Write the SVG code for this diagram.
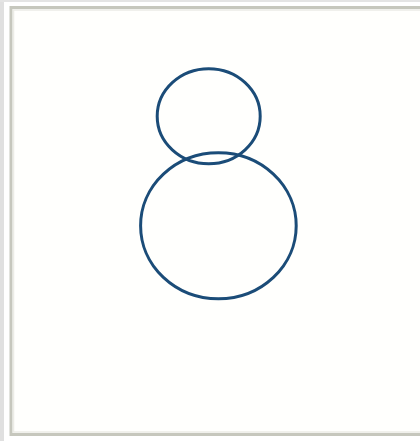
<svg xmlns="http://www.w3.org/2000/svg" width="420" height="441" viewBox="0 0 420 441">
<style>
.ring{fill:none;stroke:#1b4c78;stroke-width:3}
</style>
<rect x="0" y="0" width="420" height="441" fill="#ffffff"/>
<rect x="0" y="0" width="4" height="441" fill="#e0e0e0"/>
<rect x="0" y="0" width="420" height="2" fill="#e4e4e4"/>
<rect x="11" y="7.5" width="420" height="427" fill="#fffffd" stroke="#c6c7bd" stroke-width="3"/>
<rect x="13.5" y="10" width="420" height="422" fill="none" stroke="#ecece6" stroke-width="1.5"/>
<g id="head"><ellipse class="ring" cx="208.7" cy="116.2" rx="51.5" ry="47.5"/></g>
<g id="body"><ellipse class="ring" cx="218.4" cy="225.8" rx="77.8" ry="73"/></g>
<g id="connectors"></g>
</svg>
